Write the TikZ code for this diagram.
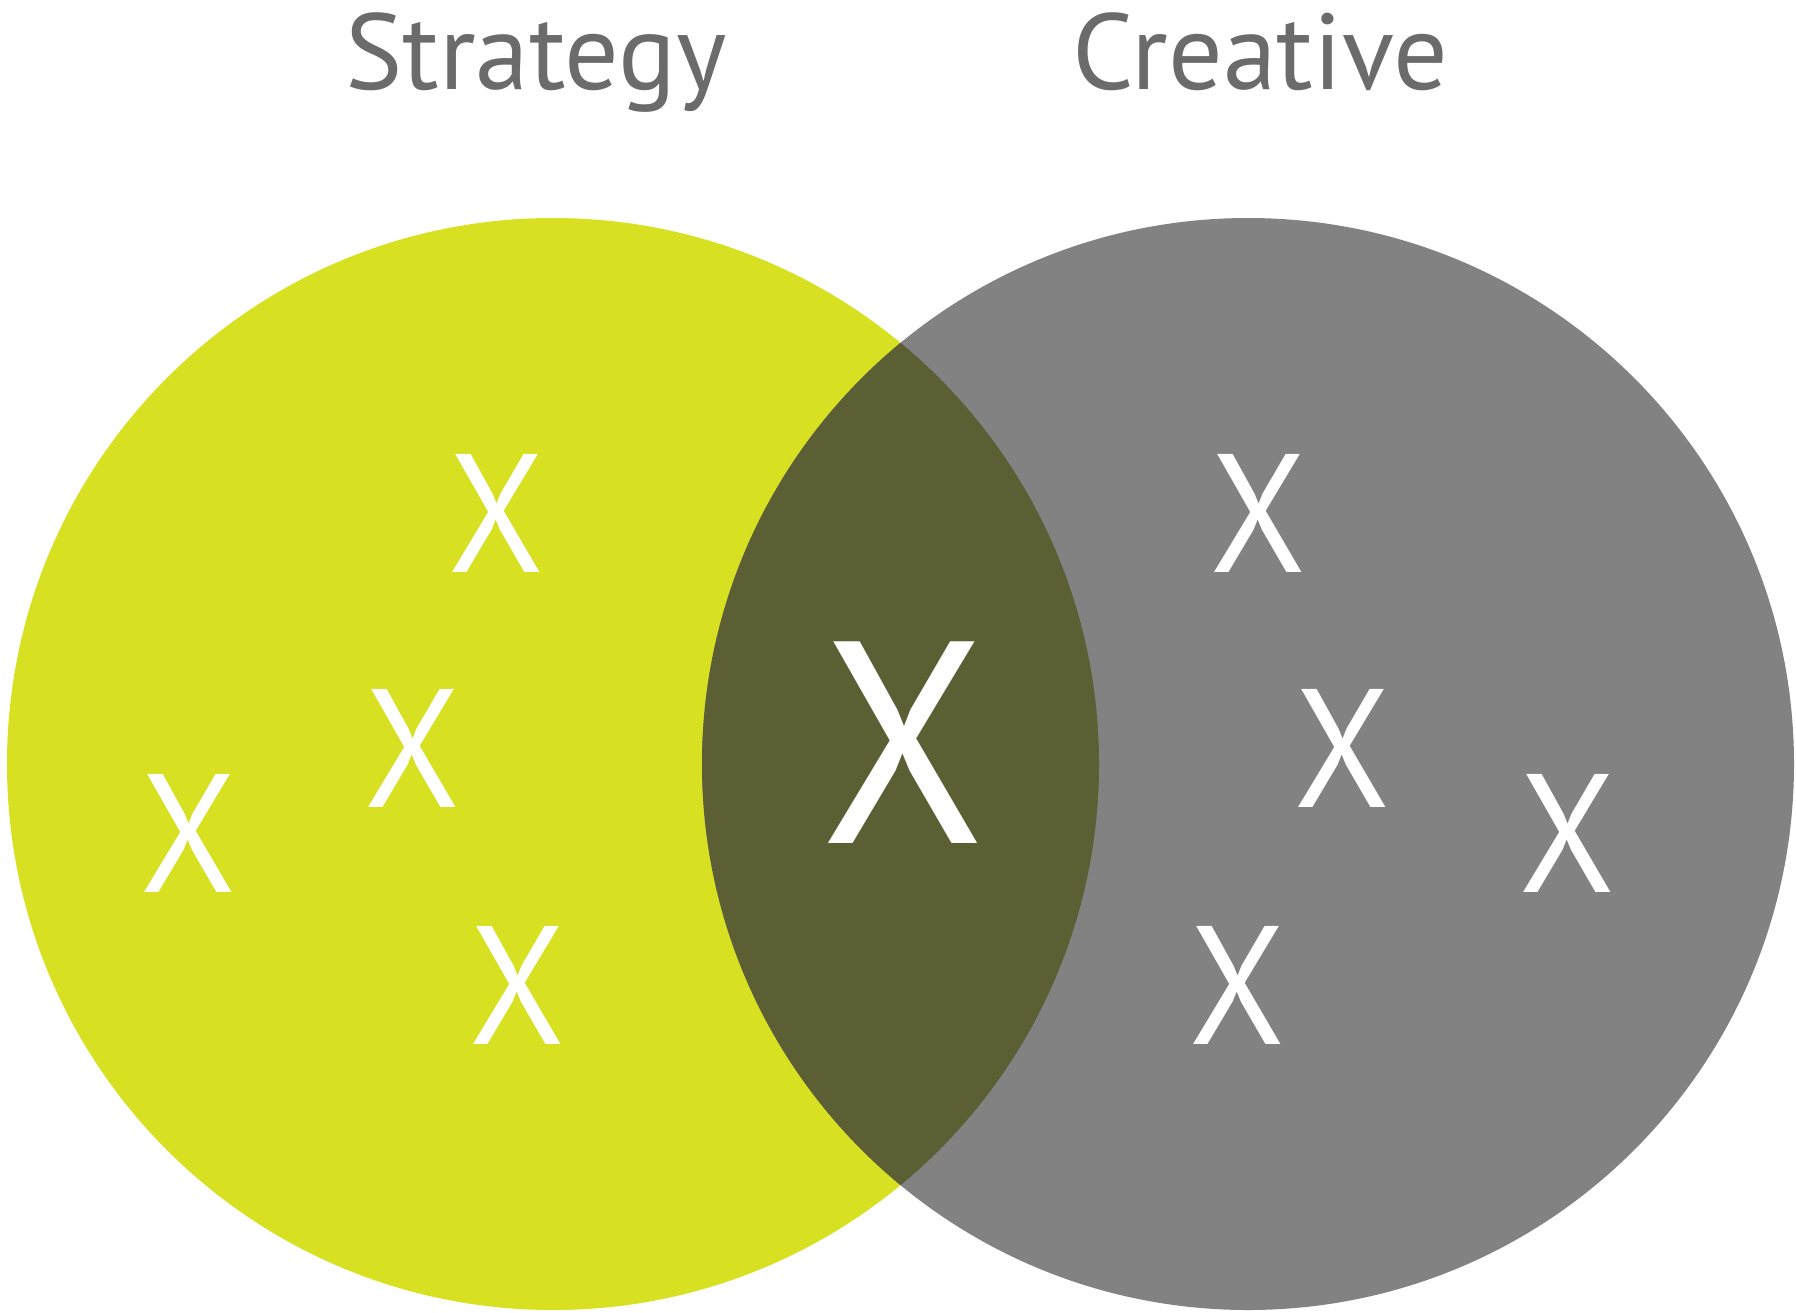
\documentclass[tikz,border=0pt]{standalone}
\usepackage{fontspec}
\setmainfont{PT Sans}
\usepackage{xcolor}
\definecolor{stratgreen}{HTML}{D8E022}
\definecolor{creagray}{HTML}{818281}
\definecolor{overlap}{HTML}{5C5F34}
\definecolor{labelgray}{HTML}{6B6B6B}
\newcommand{\narrowx}{\scalebox{0.92}[1]{X}}

\begin{document}
\begin{tikzpicture}[
    xmark/.style={text=white,inner sep=0pt,font=\fontsize{48}{48}\selectfont},
    bigxmark/.style={text=white,inner sep=0pt,font=\fontsize{82}{82}\selectfont},
    title/.style={text=labelgray,anchor=base,font=\fontsize{30.7}{31}\selectfont}
  ]
      \useasboundingbox (0,0) rectangle (17.96,13.12);
      % circles
      \fill[stratgreen] (5.53,5.48) circle (5.46);
      \fill[creagray] (12.48,5.48) circle (5.46);
      \begin{scope}
        \clip (5.53,5.48) circle (5.46);
        \fill[overlap] (12.48,5.48) circle (5.46);
      \end{scope}
      % titles
      \node[title] (S) at (5.36,12.23) {Strategy};
      \node[title] (C) at (12.60,12.23) {Creative};
      % marks
      \node[xmark] (A) at (4.96,7.99) {\narrowx};
      \node[xmark] (B) at (4.12,5.64) {\narrowx};
      \node[xmark] (D) at (1.88,4.79) {\narrowx};
      \node[xmark] (E) at (5.17,3.27) {\narrowx};
      \node[bigxmark] (M) at (9.03,5.69) {\narrowx};
      \node[xmark] (F) at (12.58,7.99) {\narrowx};
      \node[xmark] (G) at (13.42,5.64) {\narrowx};
      \node[xmark] (H) at (15.67,4.79) {\narrowx};
      \node[xmark] (K) at (12.37,3.27) {\narrowx};
    \end{tikzpicture}
\end{document}
